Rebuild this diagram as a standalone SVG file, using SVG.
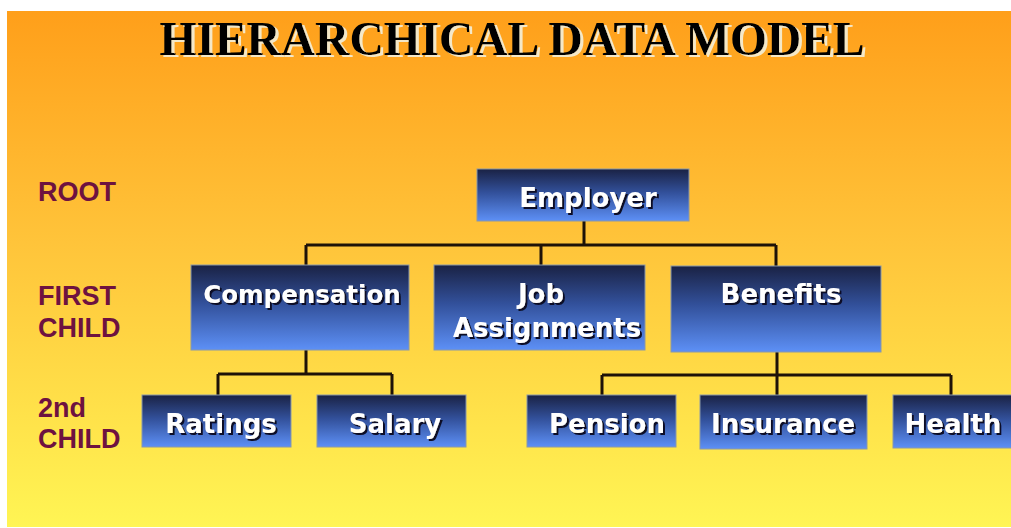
<svg xmlns="http://www.w3.org/2000/svg" width="1011" height="528" viewBox="0 0 1011 528">
<defs>
<linearGradient id="bg" x1="0" y1="0" x2="0" y2="1">
<stop offset="0" stop-color="#ff9f1a"/>
<stop offset="0.45" stop-color="#ffc43a"/>
<stop offset="1" stop-color="#fff554"/>
</linearGradient>
<linearGradient id="box" x1="0" y1="0" x2="0" y2="1">
<stop offset="0" stop-color="#1a2244"/>
<stop offset="0.45" stop-color="#32509a"/>
<stop offset="1" stop-color="#5d90f6"/>
</linearGradient>
<filter id="sh" x="-10%" y="-20%" width="130%" height="150%">
<feFlood flood-color="#0a0f28" result="c"/>
<feComposite in="c" in2="SourceAlpha" operator="in" result="s"/>
<feOffset in="s" dx="2" dy="2" result="o"/>
<feMerge><feMergeNode in="o"/><feMergeNode in="SourceGraphic"/></feMerge>
</filter>
<filter id="tsh" x="-5%" y="-20%" width="110%" height="150%">
<feFlood flood-color="#f4e8c8" result="c"/>
<feComposite in="c" in2="SourceAlpha" operator="in" result="s"/>
<feOffset in="s" dx="3" dy="2" result="o"/>
<feMerge><feMergeNode in="o"/><feMergeNode in="SourceGraphic"/></feMerge>
</filter>
</defs>
<style>
.node rect{fill:url(#box);stroke:#8a97a8;stroke-width:1}
.node text{font-family:"DejaVu Sans",Verdana,sans-serif;font-weight:bold;font-size:26px;fill:#ffffff;text-anchor:middle;filter:url(#sh)}
.lbl{font-family:"Liberation Sans",Arial,sans-serif;font-weight:bold;font-size:27px;fill:#6e1240}
.conn{fill:none;stroke:#1e1208;stroke-width:3}
</style>
<rect x="0" y="0" width="1011" height="528" fill="#ffffff"/>
<rect x="7" y="11" width="1004" height="516" fill="url(#bg)"/>
<text x="512" y="55" font-family="'Liberation Serif','Times New Roman',serif" font-weight="bold" font-size="48" fill="#000000" text-anchor="middle" textLength="705" lengthAdjust="spacingAndGlyphs" filter="url(#tsh)">HIERARCHICAL DATA MODEL</text>
<g id="labels">
<text class="lbl" x="38" y="201">ROOT</text>
<text class="lbl" x="38" y="305">FIRST</text>
<text class="lbl" x="38" y="337">CHILD</text>
<text class="lbl" x="38" y="417">2nd</text>
<text class="lbl" x="38" y="448">CHILD</text>
</g>
<g id="connectors">
<path class="conn" d="M584 221V245M306 245H776M306 245V265M541 245V265M776 245V266"/>
<path class="conn" d="M306 350V374M218 374H392M218 374V395M392 374V395"/>
<path class="conn" d="M777 352V375M602 375H951M602 375V395M777 375V395M951 375V395"/>
</g>
<g id="employer" class="node"><rect x="477" y="169" width="212" height="52"/><text x="588" y="207">Employer</text></g>
<g id="compensation" class="node"><rect x="191" y="265" width="218" height="85"/><text x="302" y="303" style="font-size:24.5px">Compensation</text></g>
<g id="job" class="node"><rect x="434" y="265" width="211" height="85"/><text x="541" y="303">Job</text><text x="547" y="337">Assignments</text></g>
<g id="benefits" class="node"><rect x="671" y="266" width="210" height="86"/><text x="781" y="303">Benefits</text></g>
<g id="ratings" class="node"><rect x="142" y="395" width="149" height="52"/><text x="221" y="433">Ratings</text></g>
<g id="salary" class="node"><rect x="317" y="395" width="149" height="52"/><text x="395" y="433">Salary</text></g>
<g id="pension" class="node"><rect x="527" y="395" width="149" height="52"/><text x="607" y="433">Pension</text></g>
<g id="insurance" class="node"><rect x="700" y="395" width="167" height="54"/><text x="783" y="433">Insurance</text></g>
<g id="health" class="node"><rect x="893" y="395" width="125" height="53"/><text x="953" y="433">Health</text></g>
</svg>
